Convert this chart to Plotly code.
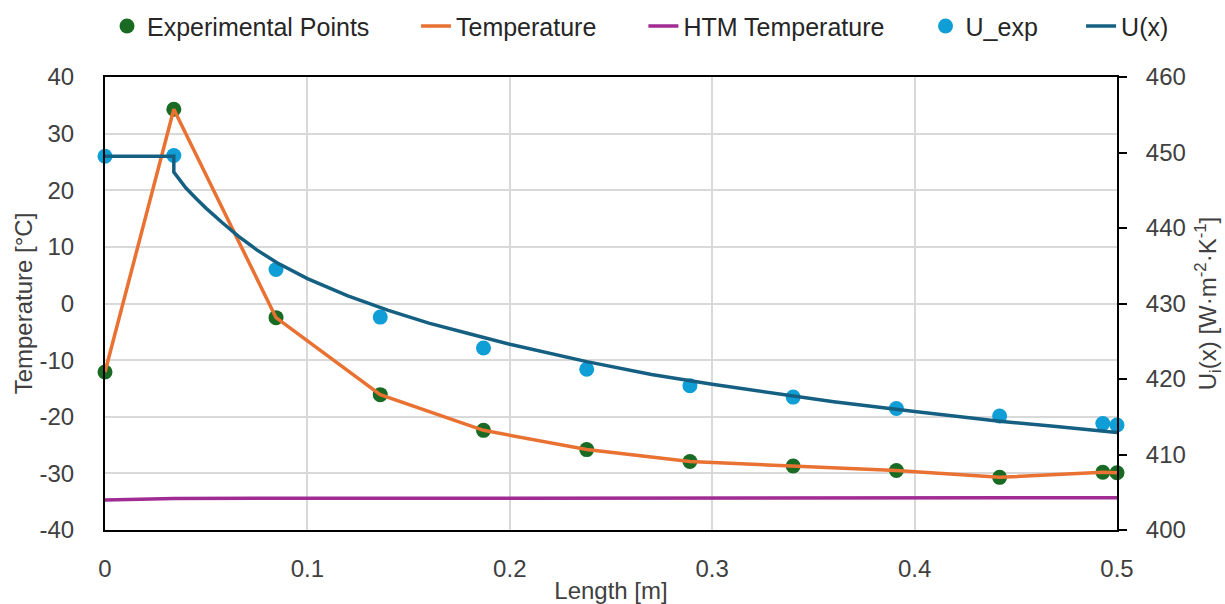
import plotly.graph_objects as go

# Axial positions of the measurement stations [m]
length_m = [0.0, 0.034, 0.0845, 0.136, 0.187, 0.238, 0.289, 0.340, 0.391, 0.442, 0.493, 0.500]
# Measured product temperature [°C]
temp_exp = [-12.1, 34.3, -2.5, -16.1, -22.4, -25.8, -27.9, -28.7, -29.5, -30.7, -29.8, -29.9]
# Heat-transfer-medium temperature [°C]
htm_temp = [-34.7, -34.45, -34.4, -34.4, -34.4, -34.4, -34.35, -34.35, -34.3, -34.3, -34.3, -34.3]
# Experimental overall heat-transfer coefficient [W/(m2 K)]
u_exp = [449.5, 449.6, 434.5, 428.2, 424.1, 421.3, 419.1, 417.6, 416.1, 415.1, 414.1, 413.9]

# Model heat-transfer coefficient profile U(x)
ux_len = [0.0, 0.034, 0.034, 0.037, 0.040, 0.045, 0.050, 0.058, 0.066, 0.075, 0.085,
          0.100, 0.120, 0.140, 0.160, 0.180, 0.200, 0.238, 0.270, 0.300, 0.330,
          0.360, 0.400, 0.442, 0.470, 0.500]
ux_val = [449.5, 449.5, 447.4, 446.3, 445.3, 443.9, 442.6, 440.7, 438.9, 437.1, 435.4,
          433.3, 431.0, 429.1, 427.4, 426.0, 424.6, 422.3, 420.6, 419.3, 418.1,
          417.0, 415.7, 414.4, 413.7, 412.9]

x_ticks = [0, 0.1, 0.2, 0.3, 0.4, 0.5]
x_ticktext = ["0", "0.1", "0.2", "0.3", "0.4", "0.5"]
t_ticks = [-40, -30, -20, -10, 0, 10, 20, 30, 40]
t_ticktext = ["-40", "-30", "-20", "-10", "0", "10", "20", "30", "40"]
u_ticks = [400, 410, 420, 430, 440, 450, 460]

GREEN = "#196B24"
ORANGE = "#E97132"
PURPLE = "#A02B93"
LIGHT_BLUE = "#0F9ED5"
DARK_BLUE = "#156082"
GRID = "#D9D9D9"
TEXT = "#404040"
FONT = "Liberation Sans, Arial, sans-serif"

fig = go.Figure()

fig.add_trace(go.Scatter(
    x=length_m, y=temp_exp, mode="markers", name="Experimental Points",
    marker=dict(color=GREEN, size=15), cliponaxis=False, legend="legend",
))
fig.add_trace(go.Scatter(
    x=length_m, y=temp_exp, mode="lines", name="Temperature",
    line=dict(color=ORANGE, width=3.5), cliponaxis=False, legend="legend2",
))
fig.add_trace(go.Scatter(
    x=length_m, y=htm_temp, mode="lines", name="HTM Temperature",
    line=dict(color=PURPLE, width=3.5), cliponaxis=False, legend="legend3",
))
fig.add_trace(go.Scatter(
    x=length_m, y=u_exp, mode="markers", name="U_exp", yaxis="y2",
    marker=dict(color=LIGHT_BLUE, size=15), cliponaxis=False, legend="legend4",
))
fig.add_trace(go.Scatter(
    x=ux_len, y=ux_val, mode="lines", name="U(x)", yaxis="y2",
    line=dict(color=DARK_BLUE, width=3.5), cliponaxis=False, legend="legend5",
))

legend_font = dict(family=FONT, size=25, color="#262626")


def legend_at(xpos):
    return dict(
        orientation="h", x=xpos, xanchor="left", y=1.112, yanchor="middle",
        font=legend_font, bgcolor="rgba(0,0,0,0)", itemwidth=30,
    )


fig.update_layout(
    width=1225, height=604,
    margin=dict(l=105, r=108, t=77, b=74, autoexpand=False),
    paper_bgcolor="white", plot_bgcolor="white",
    font=dict(family=FONT, size=24, color=TEXT),
    showlegend=True,
    legend=legend_at(0.002),
    legend2=legend_at(0.3073),
    legend3=legend_at(0.532),
    legend4=legend_at(0.8108),
    legend5=legend_at(0.9645),
    xaxis=dict(
        range=[0, 0.5], tickvals=x_ticks, ticktext=x_ticktext,
        showgrid=True, gridcolor=GRID, gridwidth=2,
        showline=True, linecolor="black", linewidth=2, mirror=True,
        ticks="", ticklabelstandoff=16, zeroline=False, automargin=False,
        title=dict(text="Length [m]", standoff=1, font=dict(size=24, color=TEXT)),
        tickfont=dict(size=24, color=TEXT),
    ),
    xaxis2=dict(
        overlaying="x", matches="x", anchor="free", position=0.5,
        showline=True, linecolor="black", linewidth=2,
        ticks="inside", ticklen=8, tickwidth=2, tickcolor="black",
        tickvals=x_ticks, showticklabels=False, showgrid=False, zeroline=False,
        layer="below traces",
    ),
    yaxis=dict(
        range=[-40, 40], tickvals=t_ticks, ticktext=t_ticktext,
        showgrid=True, gridcolor=GRID, gridwidth=2,
        showline=True, linecolor="black", linewidth=2,
        ticks="", ticklabelstandoff=24, zeroline=False, automargin=False,
        title=dict(text="Temperature [°C]", standoff=0, font=dict(size=24, color=TEXT)),
        tickfont=dict(size=24, color=TEXT),
    ),
    yaxis2=dict(
        range=[400, 460], tickvals=u_ticks, overlaying="y", side="right",
        showgrid=False, zeroline=False, automargin=False,
        showline=True, linecolor="black", linewidth=2,
        ticks="outside", ticklen=8, tickwidth=2, tickcolor="black",
        ticklabelstandoff=14,
        title=dict(text="U<sub>i</sub>(x) [W·m<sup>-2</sup>·K<sup>-1</sup>]",
                   standoff=18, font=dict(size=24, color=TEXT)),
        tickfont=dict(size=24, color=TEXT),
    ),
)

fig.write_html("out.html")
